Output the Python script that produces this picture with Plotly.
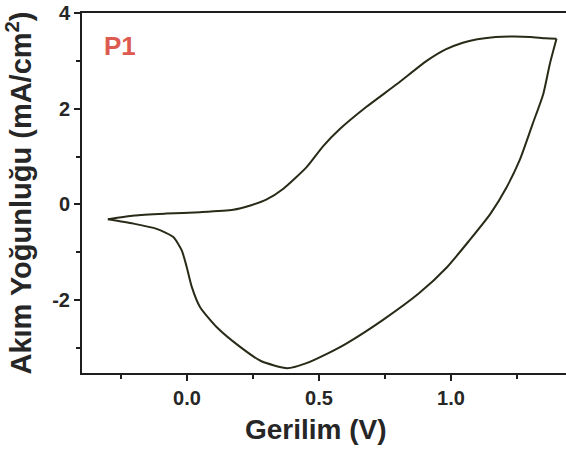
import plotly.graph_objects as go

# Forward (anodic) sweep
v_fwd = [-0.30, -0.20, -0.08, 0.05, 0.175, 0.24, 0.30, 0.365, 0.453, 0.516, 0.58, 0.68,
         0.794, 0.908, 0.98, 1.045, 1.10, 1.17, 1.24, 1.30, 1.36, 1.40]
i_fwd = [-0.31, -0.23, -0.19, -0.16, -0.11, -0.02, 0.10, 0.33, 0.78, 1.22, 1.58, 2.04,
         2.51, 3.00, 3.24, 3.38, 3.45, 3.50, 3.51, 3.50, 3.47, 3.46]

# Reverse (cathodic) sweep
v_rev = [1.40, 1.375, 1.35, 1.31, 1.26, 1.21, 1.15, 1.07, 0.985, 0.88, 0.74, 0.605, 0.53,
         0.45, 0.38, 0.28, 0.20, 0.112, 0.049, 0.018, -0.001, -0.02, -0.052, -0.115,
         -0.203, -0.30]
i_rev = [3.46, 2.94, 2.31, 1.69, 0.92, 0.35, -0.19, -0.75, -1.31, -1.85, -2.42, -2.90, -3.12,
         -3.32, -3.42, -3.27, -2.97, -2.56, -2.14, -1.72, -1.31, -0.96, -0.68, -0.51,
         -0.40, -0.31]

x_ticks = [0.0, 0.5, 1.0]
x_tick_labels = ["0.0", "0.5", "1.0"]
y_ticks = [-2, 0, 2, 4]
y_tick_labels = ["-2", "0", "2", "4"]

line_color = "#2a2a18"
axis_color = "#1e1e1e"
text_color = "#262626"
font_family = "Liberation Sans, Arial, sans-serif"

fig = go.Figure()
for vx, iy in ((v_fwd, i_fwd), (v_rev, i_rev)):
    fig.add_trace(go.Scatter(x=vx, y=iy, mode="lines",
                             line=dict(color=line_color, width=2, shape="spline", smoothing=0.6),
                             showlegend=False, hoverinfo="skip"))

fig.add_annotation(text="<b>P1</b>", x=0.041, y=0.908, xref="paper", yref="paper",
                   xanchor="left", yanchor="middle", showarrow=False,
                   font=dict(size=26, color="#dd5a50", family=font_family))

# x-axis title placed as annotation to match the reference's slight left offset
fig.add_annotation(text="<b>Gerilim (V)</b>", x=0.4835, y=-0.158, xref="paper", yref="paper",
                   xanchor="center", yanchor="middle", showarrow=False,
                   font=dict(size=28, color=text_color, family=font_family))

fig.update_layout(
    width=566, height=452,
    margin=dict(l=82, r=0, t=13, b=79),
    paper_bgcolor="white", plot_bgcolor="white",
    font=dict(family=font_family, color=text_color),
    xaxis=dict(range=[-0.398, 1.436], tickvals=x_ticks, ticktext=x_tick_labels,
               automargin=False,
               showgrid=False, zeroline=False, showline=True, linecolor=axis_color,
               linewidth=2, mirror=True, ticks="outside", ticklen=6, tickwidth=2,
               tickcolor=axis_color,
               minor=dict(tickvals=[-0.25, 0.25, 0.75, 1.25], ticks="outside",
                          ticklen=4, tickwidth=2, tickcolor=axis_color),
               tickfont=dict(size=20, color=text_color, family=font_family, weight="bold")),
    yaxis=dict(range=[-3.52, 4], tickvals=y_ticks, ticktext=y_tick_labels,
               automargin=False,
               showgrid=False, zeroline=False, showline=True, linecolor=axis_color,
               linewidth=2, mirror=False, ticks="outside", ticklen=6, tickwidth=2,
               tickcolor=axis_color,
               minor=dict(tickvals=[-3, -1, 1, 3], ticks="outside",
                          ticklen=4, tickwidth=2, tickcolor=axis_color),
               tickfont=dict(size=20, color=text_color, family=font_family, weight="bold"),
               title=dict(text="<b>Akım Yoğunluğu (mA/cm<sup>2</sup>)</b>",
                          font=dict(size=29, color=text_color), standoff=12)),
)

fig.write_html("out.html", config={"displayModeBar": False},
               post_script="document.body.style.margin='0';document.body.style.overflow='hidden';")
